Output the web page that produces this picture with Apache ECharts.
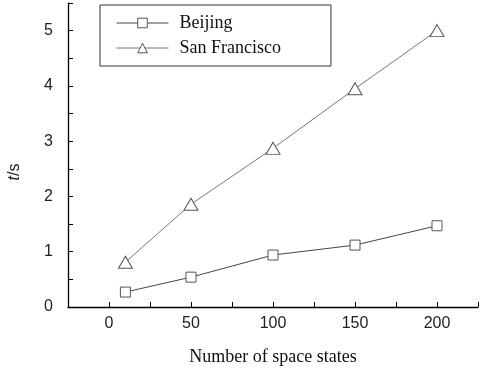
<!DOCTYPE html>
<html>
<head>
<meta charset="utf-8">
<script src="https://cdn.jsdelivr.net/npm/echarts@6/dist/echarts.min.js"></script>
<style>
  html, body { margin: 0; padding: 0; background: #fff; }
  #chart { width: 481px; height: 371px; }
</style>
</head>
<body>
<div id="chart"></div>
<script>
// Number of space states on the x axis
const spaceStates = [10, 50, 100, 150, 200];
// Computation time in seconds for each city
const beijingTimes = [0.27, 0.54, 0.94, 1.12, 1.47];
const sanFranciscoTimes = [0.81, 1.86, 2.87, 3.95, 5.0];
const seriesNames = ['Beijing', 'San Francisco'];
const xAxisTitle = 'Number of space states';

const pairs = (xs, ys) => xs.map((x, i) => [x, ys[i]]);

const serif = 'Liberation Serif';
const sans = 'Liberation Sans';

const chart = echarts.init(document.getElementById('chart'), null, { renderer: 'canvas' });

chart.setOption({
  animation: false,
  backgroundColor: '#ffffff',
  grid: { left: 68, right: 1, top: 3, bottom: 60, containLabel: false },
  legend: {
    orient: 'vertical',
    left: 100,
    top: 5,
    padding: [9, 50, 9, 16],
    itemGap: 7,
    itemWidth: 52,
    itemHeight: 12,
    borderColor: '#333',
    borderWidth: 1,
    lineStyle: { width: 1 },
    itemStyle: { borderWidth: 1 },
    textStyle: { fontFamily: serif, fontSize: 18, color: '#111', padding: [0, 0, 0, 6] },
    data: seriesNames
  },
  xAxis: {
    type: 'value',
    min: -25,
    max: 225,
    interval: 25,
    name: xAxisTitle,
    nameLocation: 'middle',
    nameGap: 41,
    nameTextStyle: { fontFamily: serif, fontSize: 18, color: '#111' },
    axisLine: { onZero: false, lineStyle: { color: '#000', width: 1.3 } },
    axisTick: { inside: true, length: 5, lineStyle: { color: '#000' } },
    axisLabel: {
      margin: 9,
      fontFamily: sans,
      fontSize: 16,
      color: '#222',
      formatter: v => (v >= 0 && v % 50 === 0 && v <= 200) ? String(v) : ''
    },
    splitLine: { show: false }
  },
  yAxis: {
    type: 'value',
    min: 0,
    max: 5.5,
    interval: 0.5,
    axisLine: { show: true, onZero: false, lineStyle: { color: '#000', width: 1.3 } },
    axisTick: { show: true, inside: true, length: 5, lineStyle: { color: '#000' } },
    axisLabel: {
      margin: 15,
      fontFamily: sans,
      fontSize: 16,
      color: '#222',
      formatter: v => (Math.abs(v - Math.round(v)) < 1e-9) ? String(Math.round(v)) : ''
    },
    splitLine: { show: false }
  },
  graphic: [{
    type: 'text',
    x: 15,
    y: 172,
    rotation: Math.PI / 2,
    style: {
      text: '{i|t}/s',
      rich: { i: { fontStyle: 'italic', fontFamily: sans, fontSize: 16, fill: '#222' } },
      fontFamily: sans,
      fontSize: 16,
      fill: '#222',
      align: 'center',
      verticalAlign: 'middle'
    }
  }],
  series: [
    {
      name: seriesNames[0],
      type: 'line',
      data: pairs(spaceStates, beijingTimes),
      symbol: 'rect',
      symbolSize: 10,
      lineStyle: { color: '#444', width: 1 },
      itemStyle: { color: '#fff', borderColor: '#555', borderWidth: 1 }
    },
    {
      name: seriesNames[1],
      type: 'line',
      data: pairs(spaceStates, sanFranciscoTimes),
      symbol: 'triangle',
      symbolSize: [14, 12],
      lineStyle: { color: '#777', width: 1 },
      itemStyle: { color: '#fff', borderColor: '#555', borderWidth: 1 }
    }
  ]
});
</script>
</body>
</html>
